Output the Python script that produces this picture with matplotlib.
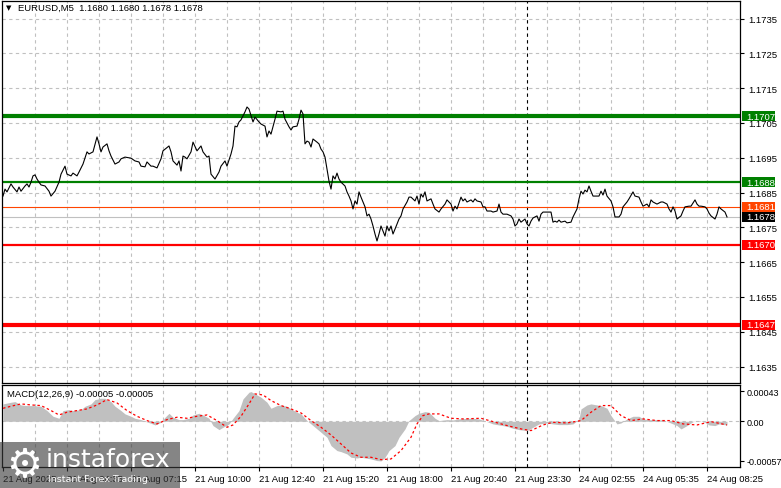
import matplotlib
matplotlib.use('Agg')
import matplotlib.pyplot as plt
import matplotlib.transforms as mtransforms
from matplotlib.patches import Rectangle

plt.rcParams['font.family'] = ['Liberation Sans', 'DejaVu Sans']

# EURUSD M5 closes (bar index, price)
price_bar = [0, 1, 2, 4, 5, 7, 8, 9, 11, 12, 13, 14, 15, 16, 17, 18, 19, 21, 23, 24,
             26, 28, 29, 31, 32, 34, 35, 37, 38, 40, 42, 43, 45, 47, 48, 49, 50, 52, 53, 54,
             56, 58, 59, 61, 64, 66, 68, 69, 71, 72, 74, 75, 77, 79, 80, 83, 84, 85, 87, 88,
             89, 90, 91, 92, 94, 95, 97, 99, 100, 102, 103, 104, 106, 108, 109, 111, 112, 114, 115, 116,
             117, 118, 119, 121, 122, 123, 125, 126, 128, 129, 131, 132, 133, 134, 135, 136, 137, 139, 140, 141,
             143, 144, 145, 147, 148, 149, 150, 151, 152, 153, 154, 155, 157, 158, 159, 160, 161, 162, 163, 164,
             165, 166, 167, 168, 169, 171, 172, 173, 174, 175, 176, 177, 178, 179, 181, 182, 183, 184, 185, 186,
             187, 188, 189, 191, 192, 193, 194, 195, 196, 198, 199, 200, 202, 203, 204, 206, 207, 208, 209, 210,
             211, 212, 214, 215, 216, 218, 219, 221, 222, 224, 225, 226, 227, 229, 230, 231, 232, 234, 235, 236,
             237, 239, 240, 241, 242, 244, 245, 247, 248, 249, 250, 252, 254, 255, 256, 257, 258, 259, 261, 262,
             263, 264, 265, 267, 268, 269, 270, 272, 274, 275, 276, 277, 278, 279, 281, 282, 284, 285, 287, 288,
             289, 290, 291, 292, 293, 294, 295, 296, 298, 299, 300, 301, 302, 304, 305, 306, 308, 309, 310, 312,
             313, 315, 316, 318, 319, 320, 322, 323, 324, 325, 327, 329, 330, 332, 333, 334, 335, 336, 337, 339,
             340, 341, 343, 344, 346, 347, 348, 349, 351, 352, 353, 354, 356, 357, 358, 359, 361, 362]
price_val = [1.16840, 1.16860, 1.16852, 1.16875, 1.16866, 1.16852, 1.16866, 1.16854, 1.16869, 1.16875,
             1.16866, 1.16880, 1.16898, 1.16901, 1.16889, 1.16880, 1.16872, 1.16869, 1.16854, 1.16840,
             1.16854, 1.16880, 1.16903, 1.16926, 1.16903, 1.16898, 1.16906, 1.16898, 1.16909, 1.16932,
             1.16967, 1.16961, 1.16967, 1.17010, 1.16990, 1.16967, 1.16981, 1.16990, 1.16970, 1.16955,
             1.16932, 1.16938, 1.16947, 1.16952, 1.16949, 1.16941, 1.16938, 1.16926, 1.16924, 1.16938,
             1.16926, 1.16926, 1.16921, 1.16947, 1.16970, 1.16984, 1.16967, 1.16941, 1.16929, 1.16941,
             1.16912, 1.16955, 1.16952, 1.16947, 1.16967, 1.16995, 1.16970, 1.16984, 1.16967, 1.16952,
             1.16955, 1.16903, 1.16889, 1.16909, 1.16926, 1.16941, 1.16926, 1.16961, 1.16984, 1.17041,
             1.17039, 1.17053, 1.17059, 1.17082, 1.17096, 1.17090, 1.17053, 1.17067, 1.17053, 1.17047,
             1.17041, 1.17010, 1.17027, 1.17018, 1.17039, 1.17061, 1.17084, 1.17082, 1.17084, 1.17061,
             1.17039, 1.17030, 1.17039, 1.17041, 1.17061, 1.17087, 1.17076, 1.16990, 1.16998, 1.16995,
             1.16981, 1.17004, 1.16995, 1.16990, 1.16975, 1.16967, 1.16952, 1.16918, 1.16883, 1.16860,
             1.16898, 1.16889, 1.16906, 1.16889, 1.16880, 1.16869, 1.16852, 1.16840, 1.16826, 1.16803,
             1.16826, 1.16817, 1.16852, 1.16837, 1.16809, 1.16783, 1.16788, 1.16774, 1.16754, 1.16731,
             1.16711, 1.16731, 1.16754, 1.16725, 1.16754, 1.16740, 1.16754, 1.16731, 1.16745, 1.16774,
             1.16783, 1.16803, 1.16823, 1.16837, 1.16837, 1.16826, 1.16840, 1.16817, 1.16846, 1.16837,
             1.16852, 1.16826, 1.16832, 1.16817, 1.16803, 1.16794, 1.16803, 1.16817, 1.16829, 1.16817,
             1.16797, 1.16811, 1.16803, 1.16837, 1.16826, 1.16832, 1.16823, 1.16829, 1.16823, 1.16832,
             1.16826, 1.16823, 1.16809, 1.16809, 1.16797, 1.16797, 1.16794, 1.16797, 1.16817, 1.16794,
             1.16788, 1.16788, 1.16783, 1.16774, 1.16754, 1.16760, 1.16774, 1.16765, 1.16774, 1.16760,
             1.16754, 1.16768, 1.16777, 1.16783, 1.16768, 1.16788, 1.16794, 1.16794, 1.16794, 1.16765,
             1.16768, 1.16765, 1.16771, 1.16765, 1.16768, 1.16763, 1.16765, 1.16780, 1.16803, 1.16832,
             1.16854, 1.16846, 1.16857, 1.16852, 1.16869, 1.16854, 1.16840, 1.16840, 1.16840, 1.16854,
             1.16843, 1.16860, 1.16840, 1.16826, 1.16809, 1.16780, 1.16780, 1.16788, 1.16809, 1.16823,
             1.16832, 1.16852, 1.16840, 1.16837, 1.16823, 1.16811, 1.16817, 1.16809, 1.16829, 1.16823,
             1.16817, 1.16823, 1.16823, 1.16817, 1.16803, 1.16794, 1.16809, 1.16797, 1.16774, 1.16783,
             1.16797, 1.16809, 1.16811, 1.16811, 1.16829, 1.16817, 1.16811, 1.16811, 1.16809, 1.16803,
             1.16791, 1.16783, 1.16774, 1.16788, 1.16809, 1.16803, 1.16794, 1.16780]

# MACD(12,26,9) histogram and signal line
macd_bar = [0, 4, 6, 9, 12, 15, 19, 22, 25, 28, 30, 33, 35, 39, 41, 44, 46, 49, 51, 54,
            56, 59, 61, 64, 66, 69, 71, 74, 76, 79, 81, 83, 85, 88, 90, 93, 95, 98, 100, 103,
            105, 108, 110, 113, 115, 118, 120, 123, 124, 127, 129, 132, 134, 137, 139, 142, 144, 147, 149, 152,
            154, 157, 159, 162, 164, 167, 169, 172, 174, 177, 179, 182, 184, 187, 189, 191, 193, 196, 198, 201,
            203, 206, 208, 211, 213, 216, 218, 222, 225, 228, 232, 235, 238, 242, 245, 248, 252, 255, 258, 262,
            265, 268, 272, 275, 278, 282, 285, 288, 289, 292, 294, 297, 299, 302, 304, 307, 309, 312, 315, 318,
            320, 323, 327, 330, 333, 337, 339, 342, 345, 348, 351, 353, 356, 358, 362]
macd_hist = [0.000250, 0.000274, 0.000283, 0.000235, 0.000226, 0.000226, 0.000216, 0.000154, 0.000072, 0.000043,
             0.000154, 0.000168, 0.000154, 0.000168, 0.000216, 0.000250, 0.000312, 0.000331, 0.000331, 0.000283,
             0.000216, 0.000154, 0.000106, 0.000072, 0.000043, 0.000024, 0.0, -0.000029, -0.000053, -0.000014,
             0.000058, 0.000115, 0.000058, 0.000024, 0.000024, 0.000043, 0.000091, 0.000115, 0.000091, 0.000043,
             -0.000062, -0.000120, -0.000086, -0.000038, 0.000043, 0.000154, 0.000322, 0.000418, 0.000427, 0.000379,
             0.000346, 0.000274, 0.000187, 0.000226, 0.000235, 0.000216, 0.000178, 0.000130, 0.000106, 0.000010,
             -0.000038, -0.000110, -0.000158, -0.000230, -0.000350, -0.000422, -0.000437, -0.000470, -0.000518, -0.000528,
             -0.000518, -0.000533, -0.000542, -0.000566, -0.000570, -0.000518, -0.000422, -0.000350, -0.000230, -0.000110,
             0.000010, 0.000082, 0.000115, 0.000139, 0.000130, 0.000043, 0.000010, 0.000024, 0.000019, 0.000034,
             0.000043, 0.000043, 0.000034, -0.000005, -0.000038, -0.000053, -0.000072, -0.000101, -0.000120, -0.000134,
             -0.000086, -0.000038, -0.000024, -0.000038, -0.000048, -0.000048, -0.000038, 0.000034, 0.000178, 0.000235,
             0.000250, 0.000235, 0.000226, 0.000187, 0.000082, -0.000038, -0.000024, 0.000034, 0.000072, 0.000072,
             0.000034, 0.000024, 0.000024, 0.000019, -0.000014, -0.000062, -0.000110, -0.000062, -0.000005, 0.000010,
             -0.000014, -0.000053, -0.000062, -0.000038, -0.000053]
signal_bar = [0, 4, 9, 14, 19, 24, 28, 32, 37, 42, 47, 52, 57, 62, 67, 72, 77, 82, 87, 92,
              97, 102, 107, 112, 115, 119, 123, 126, 130, 134, 139, 144, 149, 154, 159, 164, 169, 174, 179, 184,
              189, 194, 199, 204, 207, 210, 213, 218, 224, 230, 239, 245, 252, 259, 264, 270, 275, 282, 289, 294,
              299, 304, 309, 314, 320, 327, 334, 340, 347, 354, 362]
signal_val = [0.000187, 0.000216, 0.000250, 0.000235, 0.000226, 0.000154, 0.000091, 0.000130, 0.000154, 0.000178,
              0.000235, 0.000312, 0.000264, 0.000154, 0.000072, 0.000010, -0.000038, 0.000024, 0.000058, 0.000043,
              0.000072, 0.000091, 0.000010, -0.000086, -0.000053, 0.000072, 0.000250, 0.000394, 0.000379, 0.000298,
              0.000226, 0.000178, 0.000120, 0.000010, -0.000086, -0.000197, -0.000326, -0.000456, -0.000518, -0.000518,
              -0.000552, -0.000542, -0.000422, -0.000230, -0.000038, 0.000082, 0.000106, 0.000106, 0.000043, 0.000034,
              0.000043, -0.000005, -0.000062, -0.000110, -0.000134, -0.000053, -0.000014, -0.000024, 0.000010, 0.000130,
              0.000226, 0.000226, 0.000082, 0.000010, 0.000034, 0.000010, 0.000010, -0.000038, -0.000053, -0.000005,
              -0.000053]

# horizontal levels with their tag colours
level_val = [1.1707, 1.1688, 1.1681, 1.1678, 1.1670, 1.1647]
level_color = ['#008000', '#008000', '#ff4500', '#c0c0c0', '#ff0000', '#ff0000']
level_tag = ['#008000', '#008000', '#ff4500', '#000000', '#ff0000', '#ff0000']
level_width = [3.0, 1.6, 0.8, 0.8, 1.6, 3.0]

price_ticks = [1.1635, 1.1645, 1.1655, 1.1665, 1.1675, 1.1685, 1.1695, 1.1705, 1.1715, 1.1725, 1.1735]
time_ticks = [0, 32, 64, 96, 128, 160, 192, 224, 256, 288, 320, 352]
time_labels = ['21 Aug 2025', '21 Aug 04:35', '21 Aug 07:15', '21 Aug 10:00', '21 Aug 12:40',
               '21 Aug 15:20', '21 Aug 18:00', '21 Aug 20:40', '21 Aug 23:30', '24 Aug 02:55',
               '24 Aug 05:35', '24 Aug 08:25']
macd_ticks = [-0.00057, 0.0, 0.00043]
macd_labels = ['-0.00057', '0.00', '0.00043']
separator_bar = 262

W, H = 781, 489
fig = plt.figure(figsize=(W / 100, H / 100), dpi=100)
fig.patch.set_facecolor('white')

def px_axes(x0, y0, x1, y1):
    return fig.add_axes([x0 / W, 1 - y1 / H, (x1 - x0) / W, (y1 - y0) / H])

ax = px_axes(2, 2, 740, 384)
ax2 = px_axes(2, 386, 740, 468)

xlim = (-0.5, 368.5)
grid_kw = dict(color='#c0c0c0', lw=0.8, linestyle=(0, (3, 3)), zorder=0)
fs = 6.8

for a in (ax, ax2):
    a.set_xlim(*xlim)
    for b in range(16, 360, 16):
        a.axvline(b, **grid_kw)
    a.axvline(separator_bar, color='black', lw=0.8, linestyle=(0, (3, 3)), zorder=1)
    for s in a.spines.values():
        s.set_color('black')
        s.set_linewidth(0.9)
    a.yaxis.tick_right()
    a.tick_params(axis='y', direction='out', length=3, pad=3, labelsize=fs, colors='black')

# main price panel
ax.set_ylim(1.163028, 1.174006)
for p in price_ticks:
    ax.axhline(p, **grid_kw)
ax.set_yticks(price_ticks, [f'{p:.4f}' for p in price_ticks])
ax.set_xticks([])

for v, c, lw in zip(level_val, level_color, level_width):
    ax.axhline(v, color=c, lw=lw, zorder=2)
ax.plot(price_bar, price_val, color='black', lw=0.8, zorder=3)

trans = mtransforms.blended_transform_factory(ax.transAxes, ax.transData)
tag_h = (1.174006 - 1.163028) * 10 / 382
for v, c in zip(level_val, level_tag):
    ax.add_patch(Rectangle((1.0027, v - tag_h / 2), 33 / 738, tag_h, transform=trans,
                           facecolor=c, edgecolor='none', clip_on=False, zorder=5))
    ax.text(1.0081, v, f'{v:.4f}', transform=trans, color='white', fontsize=fs,
            ha='left', va='center', clip_on=False, zorder=6)

# MACD panel
ax2.set_ylim(-0.000658, 0.000522)
ax2.axhline(0, **grid_kw)
ax2.fill_between(macd_bar, 0, macd_hist, color='#c0c0c0', lw=0, zorder=1.5)
ax2.plot(signal_bar, signal_val, color='red', lw=0.9, linestyle=(0, (2, 2)), zorder=3)
ax2.set_yticks(macd_ticks, macd_labels)
ax2.tick_params(axis='y', pad=1.5, labelsize=6.5)
ax2.set_xticks(time_ticks, time_labels)
ax2.tick_params(axis='x', direction='out', length=3, pad=2, labelsize=fs, colors='black')
for lbl in ax2.get_xticklabels():
    lbl.set_ha('left')
ax2.text(5 / 738, 0.90, 'MACD(12,26,9) -0.00005 -0.00005', transform=ax2.transAxes,
         fontsize=fs, ha='left', va='center', color='black')

# header
fig.text(6 / W, 1 - 8.5 / H, '\u25bc', fontsize=5, family=['DejaVu Sans'], ha='left', va='center')
fig.text(18 / W, 1 - 8.5 / H, 'EURUSD,M5  1.1680 1.1680 1.1678 1.1678', fontsize=fs,
         ha='left', va='center', color='black')

# watermark
fig.patches.append(Rectangle((0, 0), 180 / W, 46 / H, transform=fig.transFigure,
                             facecolor='#3a3a3a', alpha=0.62, edgecolor='none', zorder=4))
fig.text(6 / W, 1 - 466 / H, '\u2699', fontsize=29, family=['DejaVu Sans'], color='white',
         ha='left', va='center', zorder=5)
fig.text(46 / W, 1 - 460 / H, 'instaforex', fontsize=18, family=['DejaVu Sans'], color='white',
         ha='left', va='center', zorder=5)
fig.text(48 / W, 1 - 480 / H, 'Instant Forex Trading', fontsize=6.8, family=['DejaVu Sans'],
         color='white', ha='left', va='center', zorder=5)

fig.savefig('out.png', dpi=100)
